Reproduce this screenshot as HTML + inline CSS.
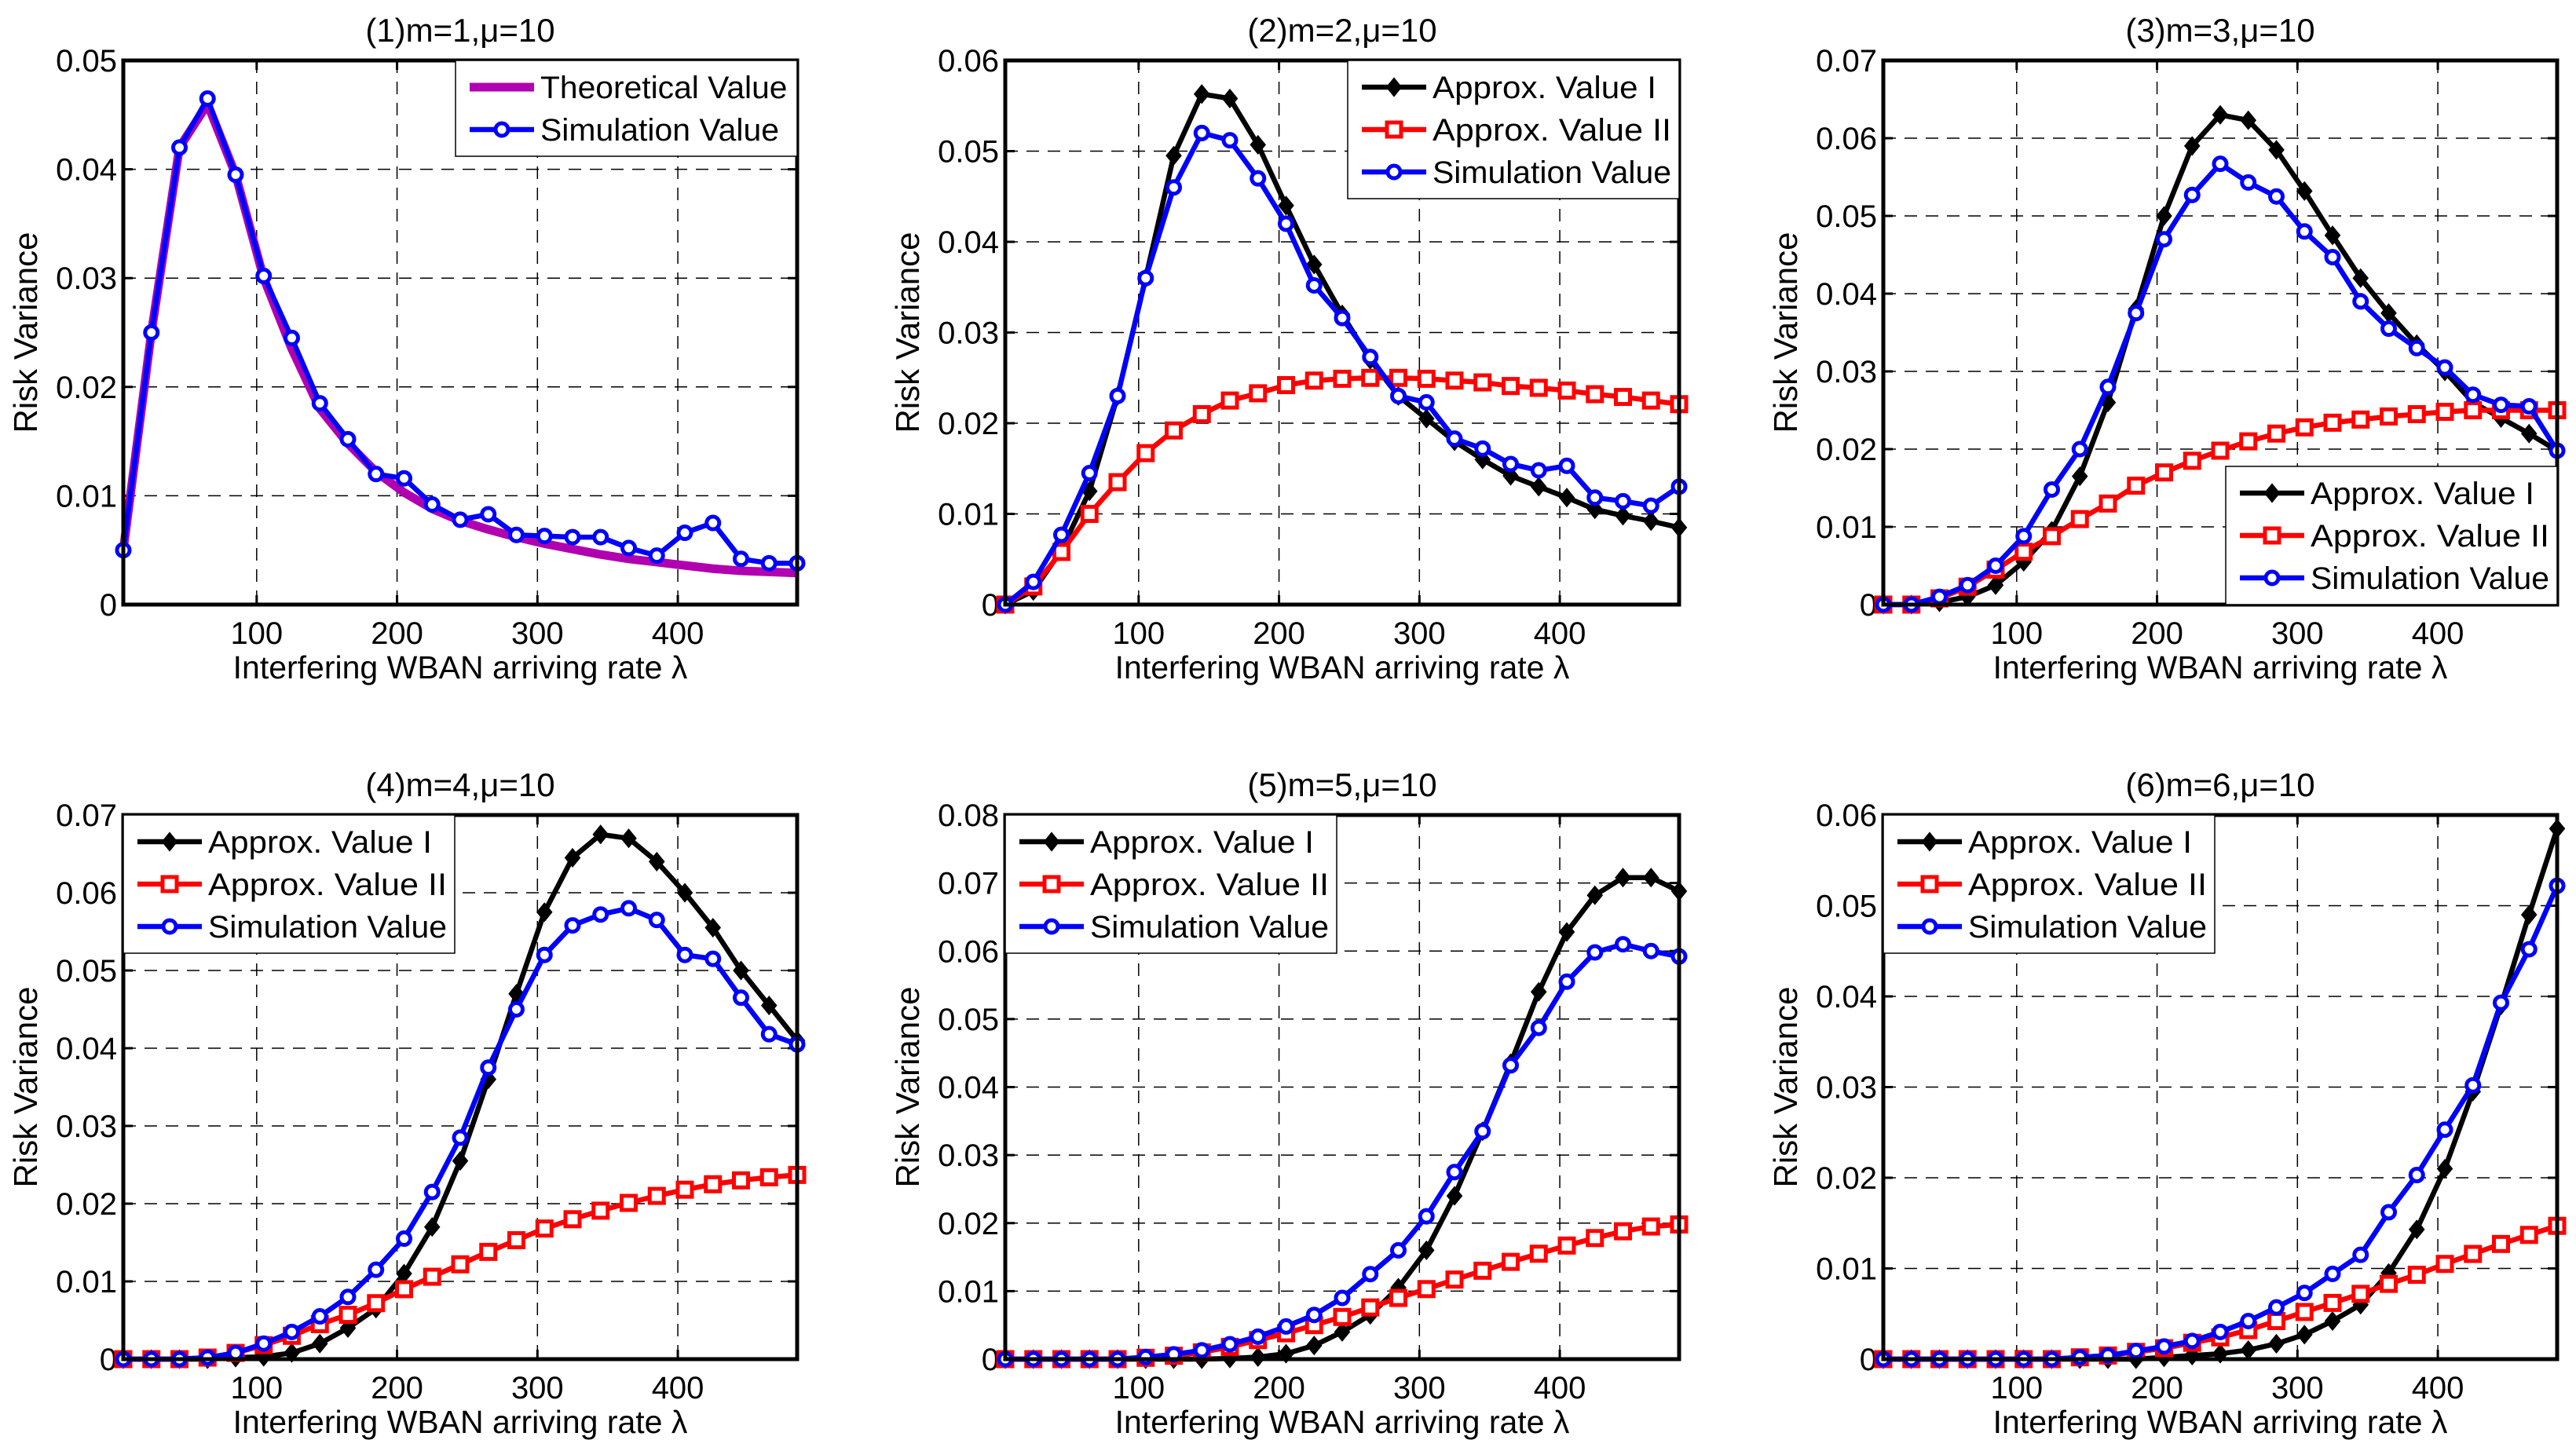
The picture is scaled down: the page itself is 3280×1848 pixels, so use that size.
<!DOCTYPE html>
<html><head><meta charset="utf-8"><style>
html,body{margin:0;padding:0;background:#fff;}
svg{display:block;font-family:"Liberation Sans",Arial,sans-serif;}
</style></head><body>
<svg id="fig" width="3280" height="1848" viewBox="0 0 3280 1848"></svg>
<script>
const xValues=[5,25,45,65,85,105,125,145,165,185,205,225,245,265,285,305,325,345,365,385,405,425,445,465,485];
const xTicks=[100,200,300,400];
const p1Theory=[0.005,0.025,0.042,0.046,0.0395,0.030,0.0235,0.018,0.0148,0.0122,0.0103,0.0088,0.0077,0.0069,0.0062,0.0056,0.0051,0.0046,0.0042,0.0039,0.0036,0.0033,0.0031,0.0030,0.0029];
const p1Sim=[0.005,0.025,0.042,0.0465,0.0395,0.0302,0.0245,0.0185,0.0152,0.012,0.0116,0.0092,0.0078,0.0083,0.0064,0.0063,0.0062,0.0062,0.0052,0.0045,0.0066,0.0075,0.0042,0.0038,0.0038];
const p2A1=[0,0.0015,0.006,0.0125,0.023,0.036,0.0495,0.0563,0.0558,0.0507,0.044,0.0375,0.032,0.027,0.023,0.0205,0.018,0.016,0.0142,0.013,0.0118,0.0105,0.0098,0.0092,0.0085];
const p2A2=[0,0.002,0.0058,0.010,0.0135,0.0167,0.0192,0.021,0.0225,0.0233,0.0242,0.0247,0.0249,0.025,0.025,0.0249,0.0247,0.0245,0.0241,0.0239,0.0236,0.0232,0.0229,0.0225,0.0221];
const p2Sim=[0,0.0025,0.0077,0.0145,0.023,0.036,0.046,0.052,0.0512,0.047,0.042,0.0352,0.0316,0.0273,0.023,0.0223,0.0183,0.0172,0.0155,0.0148,0.0153,0.0118,0.0114,0.0109,0.013];
const p3A1=[0,0,0.0003,0.001,0.0025,0.0055,0.0095,0.0165,0.026,0.038,0.050,0.059,0.063,0.0623,0.0585,0.0532,0.0475,0.042,0.0375,0.0335,0.030,0.026,0.024,0.022,0.0198];
const p3A2=[0,0,0.0008,0.0023,0.0045,0.0068,0.0088,0.011,0.013,0.0153,0.017,0.0185,0.0198,0.021,0.022,0.0228,0.0234,0.0238,0.0242,0.0245,0.0248,0.025,0.025,0.025,0.025];
const p3Sim=[0,0,0.001,0.0025,0.005,0.0088,0.0148,0.020,0.028,0.0375,0.047,0.0527,0.0567,0.0543,0.0525,0.048,0.0447,0.039,0.0355,0.033,0.0305,0.027,0.0257,0.0255,0.0198];
const p4A1=[0,0,0,0,0.0002,0.0003,0.0008,0.002,0.004,0.0065,0.011,0.017,0.0255,0.036,0.047,0.0575,0.0645,0.0675,0.067,0.064,0.060,0.0555,0.050,0.0455,0.041];
const p4A2=[0,0,0,0.0002,0.0008,0.0018,0.003,0.0045,0.0057,0.0072,0.009,0.0106,0.0122,0.0138,0.0153,0.0168,0.018,0.0191,0.0201,0.021,0.0218,0.0225,0.023,0.0234,0.0237];
const p4Sim=[0,0,0,0.0002,0.0008,0.002,0.0035,0.0055,0.008,0.0115,0.0155,0.0215,0.0285,0.0375,0.045,0.052,0.0558,0.0572,0.058,0.0565,0.052,0.0515,0.0465,0.0418,0.0405];
const p5A1=[0,0,0,0,0,0,0,0,0.0001,0.0003,0.0008,0.002,0.004,0.0065,0.0105,0.016,0.024,0.0335,0.0435,0.054,0.0628,0.0682,0.0708,0.0708,0.0688];
const p5A2=[0,0,0,0,0,0.0002,0.0005,0.001,0.0018,0.0028,0.0038,0.005,0.0062,0.0076,0.009,0.0103,0.0117,0.013,0.0143,0.0155,0.0167,0.0178,0.0188,0.0195,0.0198];
const p5Sim=[0,0,0,0,0,0.0003,0.0007,0.0013,0.0022,0.0033,0.0048,0.0065,0.009,0.0125,0.016,0.021,0.0275,0.0335,0.0432,0.0487,0.0555,0.0598,0.061,0.06,0.0592];
const p6A1=[0,0,0,0,0,0,0,0,0,0,0.0002,0.0004,0.0006,0.001,0.0017,0.0027,0.0042,0.006,0.0095,0.0143,0.021,0.0295,0.039,0.049,0.0585];
const p6A2=[0,0,0,0,0,0,0,0.0002,0.0004,0.0008,0.0012,0.0018,0.0024,0.0032,0.0042,0.0052,0.0062,0.0072,0.0083,0.0093,0.0105,0.0116,0.0127,0.0137,0.0147];
const p6Sim=[0,0,0,0,0,0,0,0.0002,0.0004,0.0009,0.0014,0.002,0.003,0.0042,0.0057,0.0073,0.0094,0.0115,0.0162,0.0203,0.0253,0.0302,0.0393,0.0452,0.0522];

const NS="http://www.w3.org/2000/svg";
const fig=document.getElementById('fig');
function mk(tag,attrs,parent){const e=document.createElementNS(NS,tag);for(const k in attrs)e.setAttribute(k,attrs[k]);(parent||fig).appendChild(e);return e;}

const cols=[157,1280,2398], W=858;
const rows=[77,1038], H=693;
const panels=[
 {t:"(1)m=1,μ=10",ymax:0.05,c:0,r:0,series:[{d:p1Theory,k:"theory",n:"Theoretical Value"},{d:p1Sim,k:"sim",n:"Simulation Value"}],leg:"tr"},
 {t:"(2)m=2,μ=10",ymax:0.06,c:1,r:0,series:[{d:p2A1,k:"a1",n:"Approx. Value I"},{d:p2A2,k:"a2",n:"Approx. Value II"},{d:p2Sim,k:"sim",n:"Simulation Value"}],leg:"tr"},
 {t:"(3)m=3,μ=10",ymax:0.07,c:2,r:0,series:[{d:p3A1,k:"a1",n:"Approx. Value I"},{d:p3A2,k:"a2",n:"Approx. Value II"},{d:p3Sim,k:"sim",n:"Simulation Value"}],leg:"br"},
 {t:"(4)m=4,μ=10",ymax:0.07,c:0,r:1,series:[{d:p4A1,k:"a1",n:"Approx. Value I"},{d:p4A2,k:"a2",n:"Approx. Value II"},{d:p4Sim,k:"sim",n:"Simulation Value"}],leg:"tl"},
 {t:"(5)m=5,μ=10",ymax:0.08,c:1,r:1,series:[{d:p5A1,k:"a1",n:"Approx. Value I"},{d:p5A2,k:"a2",n:"Approx. Value II"},{d:p5Sim,k:"sim",n:"Simulation Value"}],leg:"tl"},
 {t:"(6)m=6,μ=10",ymax:0.06,c:2,r:1,series:[{d:p6A1,k:"a1",n:"Approx. Value I"},{d:p6A2,k:"a2",n:"Approx. Value II"},{d:p6Sim,k:"sim",n:"Simulation Value"}],leg:"tl"}
];
const styles={theory:{col:"#b000b0",w:11},a1:{col:"#000",w:6.5},a2:{col:"#ff0000",w:6.5},sim:{col:"#0000ff",w:6.5}};

function marker(g,k,x,y){
 const s=styles[k];
 if(k==="sim"){const m=mk('circle',{cx:x,cy:y,r:8,fill:"#fff",stroke:s.col,"stroke-width":5},g);}
 else if(k==="a2"){const m=mk('rect',{x:x-9,y:y-9,width:18,height:18,fill:"#fff",stroke:s.col,"stroke-width":5},g);}
 else if(k==="a1"){const m=mk('polygon',{points:`${x},${y-11} ${x+9},${y} ${x},${y+11} ${x-9},${y}`,fill:"#000",stroke:"#000","stroke-width":2},g);}
}

panels.forEach((p,i)=>{
 const L=cols[p.c],T=rows[p.r],R=L+W,B=T+H;
 const g=mk('g',{});
 
 
 const xs=v=>L+(v-5)/480*W;
 const ys=v=>B-v/p.ymax*H;
 const tt=mk('text',{x:L+W/2,y:T-24,"font-size":42,"text-anchor":"middle"},g);tt.textContent=p.t;
 
 xTicks.forEach(v=>{
  mk('line',{x1:xs(v),x2:xs(v),y1:T,y2:B,stroke:"#000","stroke-width":1.5,"stroke-dasharray":"16,11"},g);
  mk('line',{x1:xs(v),x2:xs(v),y1:B,y2:B-12,stroke:"#000","stroke-width":3},g);
  mk('line',{x1:xs(v),x2:xs(v),y1:T,y2:T+12,stroke:"#000","stroke-width":3},g);
  const tl=mk('text',{x:xs(v),y:B+50,"font-size":40,"text-anchor":"middle"},g);tl.textContent=v;
  
 });
 const n=Math.round(p.ymax/0.01);
 for(let j=0;j<=n;j++){
  const v=j*0.01,y=ys(v);
  if(j>0&&j<n){mk('line',{x1:L,x2:R,y1:y,y2:y,stroke:"#000","stroke-width":1.5,"stroke-dasharray":"16,11"},g);}
  mk('line',{x1:L,x2:L+12,y1:y,y2:y,stroke:"#000","stroke-width":3},g);
  mk('line',{x1:R,x2:R-12,y1:y,y2:y,stroke:"#000","stroke-width":3},g);
  const tl=mk('text',{x:L-8,y:y+14,"font-size":40,"text-anchor":"end"},g);tl.textContent=j===0?"0":v.toFixed(2);
  
 }
 p.series.forEach(s=>{
  const st=styles[s.k];
  const pts=s.d.map((v,idx)=>xs(xValues[idx])+","+ys(v)).join(" ");
  const pl=mk('polyline',{points:pts,fill:"none",stroke:st.col,"stroke-width":st.w,"stroke-linejoin":"round"},g);
  
  if(s.k!=="theory") s.d.forEach((v,idx)=>marker(g,s.k,xs(xValues[idx]),ys(v)));
 });
 mk('rect',{x:L,y:T,width:W,height:H,fill:"none",stroke:"#000","stroke-width":5},g);
 const xl=mk('text',{x:L+W/2,y:B+94,"font-size":41,"text-anchor":"middle"},g);xl.textContent="Interfering WBAN arriving rate λ";
 
 const yl=mk('text',{x:0,y:0,"font-size":42,"text-anchor":"middle",transform:`translate(${L-110},${T+H/2}) rotate(-90)`},g);yl.textContent="Risk Variance";
 
 const rowsN=p.series.length, lh=54;
 const lw=p.c===0&&p.r===0?435:422, lhgt=rowsN*lh+14;
 let lx,ly;
 if(p.leg==="tr"){lx=R-lw;ly=T;}else if(p.leg==="tl"){lx=L;ly=T;}else{lx=R-lw;ly=B-lhgt;}
 const lg=mk('g',{},g);
 
 mk('rect',{x:lx,y:ly,width:lw,height:lhgt,fill:"#fff",stroke:"#000","stroke-width":1.5},lg);
 p.series.forEach((s,j)=>{
  const cy=ly+34+j*lh, st=styles[s.k];
  mk('line',{x1:lx+18,x2:lx+100,y1:cy,y2:cy,stroke:st.col,"stroke-width":st.w},lg);
  marker(lg,s.k,lx+59,cy);
  const et=mk('text',{x:lx+108,y:cy+14,"font-size":40,textLength:s.n.length*(s.n==="Theoretical Value"?18.5:19),lengthAdjust:"spacingAndGlyphs"},lg);et.textContent=s.n;
  
 });
});
</script>
</body></html>
